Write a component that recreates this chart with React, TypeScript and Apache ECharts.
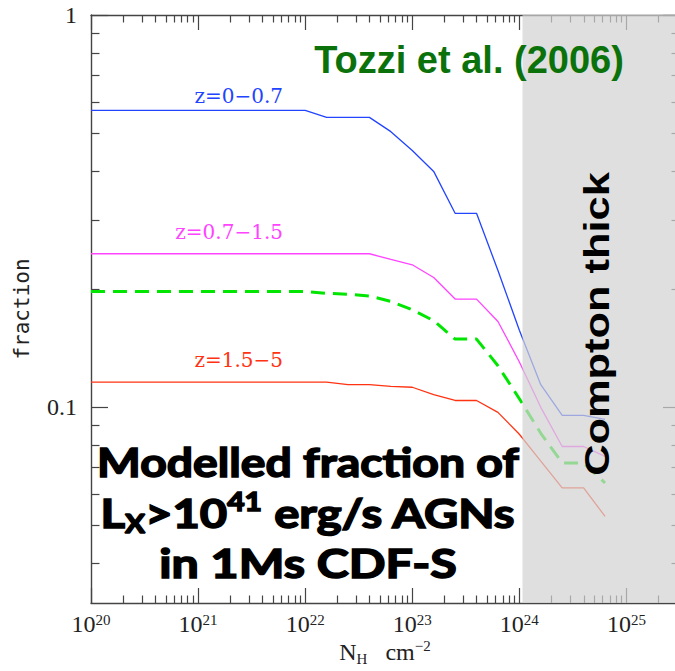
import React, { useEffect, useRef } from "react";
import * as echarts from "echarts";

// Column density grid (cm^-2), 0.2 dex steps above 1e22
const nhValues = [
  1e20, 1e22, 1.585e22, 2.512e22, 3.981e22, 6.31e22, 1e23, 1.585e23, 2.512e23,
  3.981e23, 6.31e23, 1e24, 1.585e24, 2.512e24, 3.981e24, 6.31e24,
];
// Modelled fractions per redshift bin
const fracZ0 = [0.571, 0.571, 0.548, 0.548, 0.548, 0.504, 0.451, 0.399, 0.312, 0.312, 0.223, 0.157, 0.114, 0.0952, 0.0952, 0.093];
const fracZ1 = [0.246, 0.246, 0.246, 0.246, 0.246, 0.238, 0.2306, 0.214, 0.1885, 0.1885, 0.1653, 0.1303, 0.0998, 0.0793, 0.0793, 0.0748];
const fracAll = [0.197, 0.197, 0.195, 0.194, 0.192, 0.186, 0.177, 0.166, 0.149, 0.149, 0.1274, 0.105, 0.0857, 0.072, 0.072, 0.064];
const fracZ2 = [0.1158, 0.1158, 0.1158, 0.114, 0.114, 0.1129, 0.1123, 0.1075, 0.1039, 0.1039, 0.0969, 0.0852, 0.0728, 0.0622, 0.0622, 0.0526];

const seriesNames = ["z=0\u22120.7", "z=0.7\u22121.5", "all", "z=1.5\u22125"];
const comptonThickStart = 1.07e24;

const X_MIN = 1e20;
const X_MAX = Math.pow(10, 25.5);
const Y_MIN = Math.pow(10, -1.5);
const Y_MAX = 1;

const xMajorTicks = [1e20, 1e21, 1e22, 1e23, 1e24, 1e25];
const yMajorTicks = [0.1, 1];
const minorMultipliers = [2, 3, 4, 5, 6, 7, 8, 9];
const xDecades = [1e20, 1e21, 1e22, 1e23, 1e24, 1e25];
const yDecades = [0.01, 0.1];

const xMinorTicks: number[] = [];
xDecades.forEach((d) => minorMultipliers.forEach((m) => xMinorTicks.push(m * d)));
const yMinorTicks: number[] = [];
yDecades.forEach((d) => minorMultipliers.forEach((m) => yMinorTicks.push(m * d)));

const AXIS_COLOR = "#444";
const SERIF = "'Liberation Serif', 'DejaVu Serif', serif";
const MONO = "'DejaVu Sans Mono'";

function pairs(ys: number[]) {
  return nhValues.map((x, i) => [x, ys[i]]);
}

function xAxis(position: "top" | "bottom", ticks: number[], len: number, showLine: boolean, showLabel: boolean) {
  return {
    type: "log",
    logBase: 10,
    min: X_MIN,
    max: X_MAX,
    position,
    axisLine: { show: showLine, onZero: false, lineStyle: { color: AXIS_COLOR, width: 1.4 } },
    axisTick: { show: true, inside: true, length: len, customValues: ticks, lineStyle: { color: AXIS_COLOR, width: 1.2 } },
    axisLabel: showLabel
      ? {
          show: true,
          customValues: ticks,
          margin: 9,
          formatter: (v: number) => "{b|10}{s|" + Math.round(Math.log10(v)) + "}",
          rich: {
            b: { fontFamily: SERIF, fontSize: 24, color: "#222", lineHeight: 24 },
            s: { fontFamily: SERIF, fontSize: 15, color: "#222", verticalAlign: "top", lineHeight: 24, padding: [0, 0, 6, 0] },
          },
        }
      : { show: false },
    splitLine: { show: false },
    minorTick: { show: false },
  };
}

function yAxis(position: "left" | "right", ticks: number[], len: number, showLine: boolean, showLabel: boolean) {
  return {
    type: "log",
    logBase: 10,
    min: Y_MIN,
    max: Y_MAX,
    position,
    name: showLabel ? "fraction" : "",
    nameLocation: "middle",
    nameRotate: 90,
    nameGap: 59,
    nameTextStyle: { fontFamily: MONO, fontSize: 21, color: "#222" },
    axisLine: { show: showLine, onZero: false, lineStyle: { color: AXIS_COLOR, width: 1.4 } },
    axisTick: { show: true, inside: true, length: len, customValues: ticks, lineStyle: { color: AXIS_COLOR, width: 1.2 } },
    axisLabel: showLabel
      ? {
          show: true,
          customValues: ticks,
          margin: 14,
          fontFamily: SERIF,
          fontSize: 24,
          color: "#222",
          formatter: (v: number) => (v >= 1 ? "1" : String(Math.round(v * 1000) / 1000)),
        }
      : { show: false },
    splitLine: { show: false },
    minorTick: { show: false },
  };
}

function txt(extra: any, style: any) {
  return {
    type: "text",
    z: 100,
    silent: true,
    ...extra,
    style: { align: "center", verticalAlign: "middle", textAlign: "center", textVerticalAlign: "middle", ...style },
  };
}

export default function App() {
  const ref = useRef<HTMLDivElement>(null);
  useEffect(() => {
    if (!ref.current) return;
    const chart = echarts.init(ref.current, undefined, { renderer: "svg" });
    const bigFont = "'Comic Sans MS', Lato, 'Noto Sans', sans-serif";
    const bold = { stroke: "#000", lineWidth: 1.6 };
    chart.setOption({
      animation: false,
      backgroundColor: "#fff",
      grid: { left: 91, right: 5, top: 15, bottom: 68, containLabel: false, outerBoundsMode: "none" },
      xAxis: [
        xAxis("bottom", xMajorTicks, 15, true, true),
        xAxis("bottom", xMinorTicks, 7.5, false, false),
        xAxis("top", xMajorTicks, 15, true, false),
        xAxis("top", xMinorTicks, 7.5, false, false),
      ],
      yAxis: [
        yAxis("left", yMajorTicks, 17, true, true),
        yAxis("left", yMinorTicks, 8.5, false, false),
        yAxis("right", yMajorTicks, 17, true, false),
        yAxis("right", yMinorTicks, 8.5, false, false),
      ],
      series: [
        { name: seriesNames[0], type: "line", data: pairs(fracZ0), symbol: "none", z: 2, lineStyle: { color: "#2244ff", width: 1.3 } },
        { name: seriesNames[1], type: "line", data: pairs(fracZ1), symbol: "none", z: 2, lineStyle: { color: "#ff44ff", width: 1.3 } },
        { name: seriesNames[2], type: "line", data: pairs(fracAll), symbol: "none", z: 2, lineStyle: { color: "#00e600", width: 3, type: [14, 8] } },
        { name: seriesNames[3], type: "line", data: pairs(fracZ2), symbol: "none", z: 2, lineStyle: { color: "#ff3311", width: 1.3 } },
        {
          name: "Compton thick",
          type: "line",
          data: [],
          z: 5,
          markArea: {
            silent: true,
            z: 5,
            itemStyle: { color: "rgba(210,210,210,0.71)" },
            data: [[{ xAxis: comptonThickStart, yAxis: Y_MAX }, { xAxis: X_MAX, yAxis: Y_MIN }]],
          },
        },
      ],
      graphic: [
        txt({ x: 469, y: 60 }, { text: "Tozzi et al. (2006)", fill: "#0b720b", fontFamily: "'Liberation Sans', Arial, sans-serif", fontWeight: "bold", fontSize: 38 }),
        txt({ x: 597, y: 324, rotation: Math.PI / 2, scaleX: 1.24 }, { text: "Compton thick", fill: "#000", fontFamily: "'Liberation Sans', Arial, sans-serif", fontWeight: "bold", fontSize: 35 }),
        txt({ x: 283, y: 96 }, { text: seriesNames[0], fill: "#2244ff", fontFamily: "'DejaVu Serif', serif", fontSize: 20, align: "right", textAlign: "right" }),
        txt({ x: 283, y: 232 }, { text: seriesNames[1], fill: "#ff44ff", fontFamily: "'DejaVu Serif', serif", fontSize: 20, align: "right", textAlign: "right" }),
        txt({ x: 283, y: 360 }, { text: seriesNames[3], fill: "#ff3311", fontFamily: "'DejaVu Serif', serif", fontSize: 20, align: "right", textAlign: "right" }),
        txt({ x: 385, y: 652 }, {
          text: "{n|N}{sb|H}{n|   cm}{sp|\u22122}",
          rich: {
            n: { fontFamily: SERIF, fontSize: 24, fill: "#222", color: "#222", lineHeight: 28 },
            sb: { fontFamily: SERIF, fontSize: 15, fill: "#222", color: "#222", verticalAlign: "bottom", lineHeight: 28, padding: [8, 0, 0, 0] },
            sp: { fontFamily: SERIF, fontSize: 15, fill: "#222", color: "#222", verticalAlign: "top", lineHeight: 28, padding: [0, 0, 8, 0] },
          },
        }),
        txt({ x: 308, y: 461, scaleX: 1.13 }, { text: "Modelled fraction of", fill: "#000", fontFamily: bigFont, fontWeight: "bold", fontSize: 41, ...bold }),
        txt({ x: 308, y: 512, scaleX: 1.15 }, {
          text: "{n|L}{sb|X}{n|>10}{sp|41}{n| erg/s AGNs}",
          ...bold,
          rich: {
            n: { fontFamily: bigFont, fontWeight: "bold", fontSize: 41, fill: "#000", color: "#000", lineHeight: 48, ...bold },
            sb: { fontFamily: bigFont, fontWeight: "bold", fontSize: 26, fill: "#000", color: "#000", verticalAlign: "bottom", lineHeight: 48, padding: [12, 0, 0, 0], ...bold },
            sp: { fontFamily: bigFont, fontWeight: "bold", fontSize: 26, fill: "#000", color: "#000", verticalAlign: "top", lineHeight: 48, padding: [0, 0, 12, 0], ...bold },
          },
        }),
        txt({ x: 308, y: 562, scaleX: 1.18 }, { text: "in 1Ms CDF-S", fill: "#000", fontFamily: bigFont, fontWeight: "bold", fontSize: 41, ...bold }),
      ],
    });
    return () => chart.dispose();
  }, []);
  return <div ref={ref} style={{ position: "fixed", left: 0, top: 0, width: 685, height: 671 }} />;
}
